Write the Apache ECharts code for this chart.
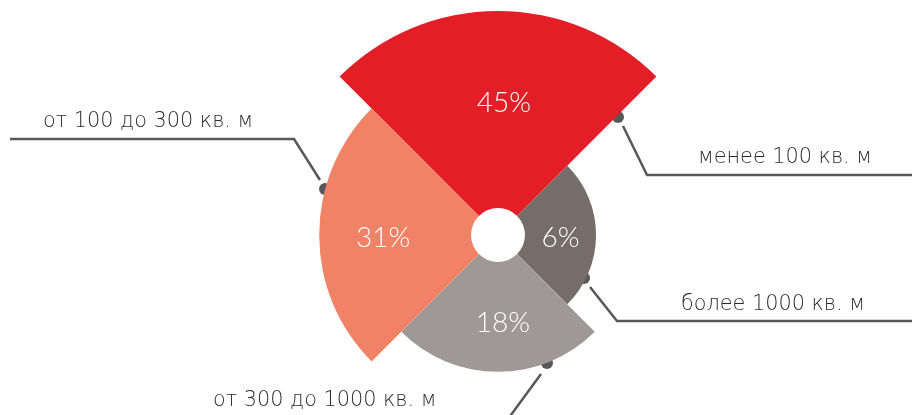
<!DOCTYPE html>
<html>
<head>
<meta charset="utf-8">
<script src="https://cdn.jsdelivr.net/npm/echarts@6/dist/echarts.min.js"></script>
<style>
  html, body { margin: 0; padding: 0; background: #ffffff; }
  #chart { width: 912px; height: 415px; }
</style>
</head>
<body>
<div id="chart"></div>
<script>
// Office stock by unit size, clockwise from the top sector
const categories = ['менее 100 кв. м', 'более 1000 кв. м', 'от 300 до 1000 кв. м', 'от 100 до 300 кв. м'];
const shares = [45, 6, 18, 31];
const sectorColors = ['#e31e26', '#766d6a', '#a09896', '#f08366'];

const chart = echarts.init(document.getElementById('chart'), null, { renderer: 'canvas' });

const lineColor = '#58585a';
const captionFont = '"DejaVu Sans", "Open Sans", sans-serif';
const valueFont = 'Lato, "Open Sans", sans-serif';

// small nudges of the value labels away from the sector midpoints
const valueLabelOffsets = [[6, -7], [0, 3], [5, 6], [-12, 3]];

// callout geometry for each category: dot on the sector, elbow line, caption
const callouts = [
  { dot: [618, 117], line: [[623, 126], [647, 175], [912, 175]], text: [698, 158] },
  { dot: [584, 278], line: [[590, 287], [617, 321], [912, 321]], text: [681, 305] },
  { dot: [547, 363], line: [[541, 374], [508, 419], [180, 419]], text: [213, 401] },
  { dot: [325, 189], line: [[320, 180], [294, 139], [10, 139]], text: [43, 122] }
];

const graphics = [];
callouts.forEach(function (c, i) {
  graphics.push({
    type: 'polyline',
    shape: { points: c.line },
    style: { stroke: lineColor, lineWidth: 2.5, fill: null },
    silent: true
  });
  graphics.push({
    type: 'circle',
    shape: { cx: c.dot[0], cy: c.dot[1], r: 6 },
    style: { fill: lineColor },
    silent: true
  });
  graphics.push({
    type: 'text',
    x: c.text[0],
    y: c.text[1],
    style: {
      text: categories[i],
      fill: '#2b2b2b',
      font: '200 20.8px ' + captionFont,
      textAlign: 'left',
      textVerticalAlign: 'middle'
    },
    silent: true
  });
});

chart.setOption({
  animation: false,
  backgroundColor: '#ffffff',
  polar: {
    center: [498, 235],
    radius: [27, 224]
  },
  angleAxis: {
    type: 'category',
    data: categories,
    startAngle: 135,
    clockwise: true,
    show: false
  },
  radiusAxis: {
    type: 'value',
    min: -16,
    max: 45,
    startValue: -16,
    show: false
  },
  series: [{
    type: 'bar',
    coordinateSystem: 'polar',
    barCategoryGap: '0%',
    data: shares.map(function (v, i) {
      return {
        value: v,
        itemStyle: { color: sectorColors[i] },
        label: { offset: valueLabelOffsets[i] }
      };
    }),
    label: {
      show: true,
      position: 'middle',
      rotate: 0,
      formatter: '{c}%',
      color: '#ffffff',
      fontFamily: valueFont,
      fontWeight: 300,
      fontSize: 28
    },
    silent: true
  }],
  graphic: graphics
});
</script>
</body>
</html>
